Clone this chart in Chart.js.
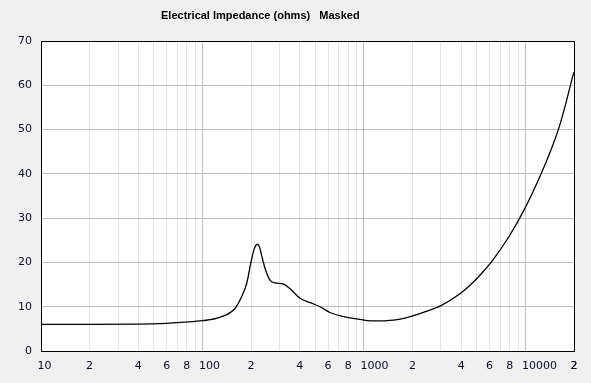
<!DOCTYPE html>
<html>
<head>
<meta charset="utf-8">
<script src="https://cdn.jsdelivr.net/npm/chart.js@4"></script>
<style>
  html, body { margin: 0; padding: 0; background: #f0f0f0; }
  #wrap { width: 591px; height: 383px; }
</style>
</head>
<body>
<div id="wrap"><canvas id="chart" width="591" height="383"></canvas></div>
<script>
var chartTitle = 'Electrical Impedance (ohms)   Masked';

// frequency (Hz) and impedance (ohms)
var freqs = [10, 20, 40, 60, 76, 100, 128, 159, 175, 188, 200, 210, 219, 226, 232, 244, 262, 281, 318, 348,
    402, 475, 535, 617, 783, 948, 1050, 1200, 1350, 1680, 2030, 2460, 2980, 3600, 4370, 5230, 6300, 7900, 9800,
    12400, 14400, 16200, 17800, 19600, 20000];
var impedance = [6.0, 6.0, 6.05, 6.25, 6.5, 6.85, 7.6, 9.6, 12.3, 15.3, 20.2, 23.2, 24.1, 23.4, 21.7, 18.7, 16.0, 15.4, 15.1, 14.1,
    11.9, 10.8, 10.0, 8.7, 7.6, 7.15, 6.85, 6.78, 6.82, 7.2, 8.0, 9.0, 10.2, 11.95, 14.3, 17.1, 20.6, 25.8, 31.8,
    39.7, 45.4, 50.6, 55.9, 61.9, 63.0];

// x gridlines: every 1..9 multiple of each decade, up to 20 kHz
var xGrid = [];
[10, 100, 1000, 10000].forEach(function(d) {
    for (var m = 1; m <= 9; m++) {
        if (d * m <= 20000) xGrid.push(d * m);
    }
});
xGrid.push(20000);
var xLabelled = [1, 2, 4, 6, 8];

function mantissa(v) {
    var p = Math.pow(10, Math.floor(Math.log10(v) + 1e-9));
    return Math.round(v / p);
}

var bgPlugin = {
    id: 'bg',
    beforeDraw: function(chart) {
        var ctx = chart.ctx, a = chart.chartArea;
        ctx.save();
        ctx.fillStyle = '#f0f0f0';
        ctx.fillRect(0, 0, chart.width, chart.height);
        ctx.fillStyle = '#ffffff';
        ctx.fillRect(a.left, a.top, a.right - a.left, a.bottom - a.top);
        ctx.restore();
    },
    afterDraw: function(chart) {
        var ctx = chart.ctx, a = chart.chartArea;
        ctx.save();
        ctx.strokeStyle = '#000000';
        ctx.lineWidth = 1;
        ctx.strokeRect(Math.round(a.left) + 0.5, Math.round(a.top) + 0.5,
            Math.round(a.right - a.left), Math.round(a.bottom - a.top));
        ctx.fillStyle = '#000000';
        ctx.font = 'bold 11px "Liberation Sans", Arial, sans-serif';
        ctx.textBaseline = 'middle';
        ctx.textAlign = 'left';
        ctx.fillText(chartTitle, 161, 16);
        ctx.restore();
    }
};

new Chart(document.getElementById('chart').getContext('2d'), {
    type: 'line',
    data: {
        datasets: [{
            data: freqs.map(function(f, i) {
                return { x: f, y: impedance[i] };
            }),
            borderColor: '#000000',
            borderWidth: 1.3,
            pointRadius: 0,
            fill: false,
            cubicInterpolationMode: 'monotone'
        }]
    },
    options: {
        responsive: false,
        animation: false,
        devicePixelRatio: 1,
        layout: {
            padding: { top: 41, right: 17, left: 0, bottom: 0 }
        },
        plugins: {
            legend: { display: false },
            tooltip: { enabled: false }
        },
        scales: {
            x: {
                type: 'logarithmic',
                min: 10,
                max: 20000,
                afterBuildTicks: function(scale) {
                    scale.ticks = xGrid.map(function(v) {
                        return { value: v };
                    });
                },
                afterFit: function(scale) {
                    scale.height = 32;
                },
                border: { display: false },
                grid: {
                    drawTicks: false,
                    color: function(ctx) {
                        return ctx.tick && mantissa(ctx.tick.value) === 1 ? '#c0c0c0' : '#e4e4e4';
                    }
                },
                ticks: {
                    autoSkip: false,
                    maxRotation: 0,
                    align: 'start',
                    labelOffset: -3.5,
                    padding: 9,
                    color: '#0a0c30',
                    font: { family: '"DejaVu Sans"', size: 11 },
                    callback: function(value) {
                        var m = mantissa(value);
                        if (m === 1) return String(value);
                        return xLabelled.indexOf(m) >= 0 ? String(m) : '';
                    }
                }
            },
            y: {
                min: 0,
                max: 70,
                afterFit: function(scale) {
                    scale.width = 41;
                },
                border: { display: false },
                grid: {
                    drawTicks: false,
                    color: '#c0c0c0'
                },
                ticks: {
                    stepSize: 10,
                    padding: 9,
                    color: '#0a0c30',
                    font: { family: '"DejaVu Sans"', size: 11 }
                }
            }
        }
    },
    plugins: [bgPlugin]
});
</script>
</body>
</html>
